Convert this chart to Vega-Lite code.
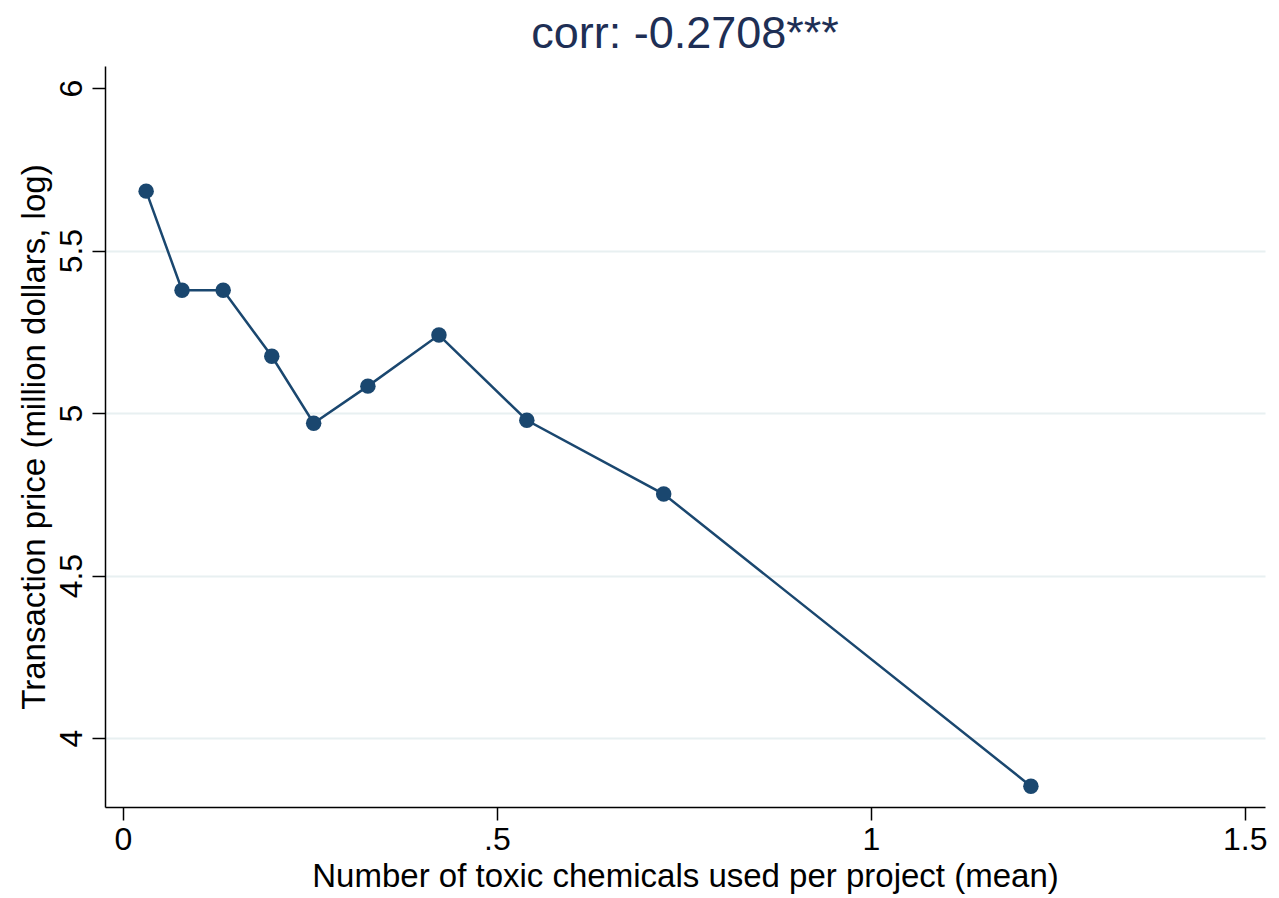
{
  "$schema": "https://vega.github.io/schema/vega-lite/v6.json",
  "width": 1160,
  "height": 741,
  "autosize": {"type": "none"},
  "padding": {"left": 105, "top": 66, "right": 14, "bottom": 91},
  "background": "white",
  "title": {
    "text": "corr: -0.2708***",
    "font": "Liberation Sans",
    "fontSize": 45,
    "fontWeight": "normal",
    "color": "#1e2f55",
    "anchor": "middle",
    "offset": 9
  },
  "config": {
    "view": {"stroke": null},
    "font": "Liberation Sans"
  },
  "data": {
    "values": [
      {"x": 0.031, "y": 5.683},
      {"x": 0.079, "y": 5.378},
      {"x": 0.134, "y": 5.378},
      {"x": 0.199, "y": 5.175},
      {"x": 0.255, "y": 4.969},
      {"x": 0.3275, "y": 5.083},
      {"x": 0.4225, "y": 5.240},
      {"x": 0.540, "y": 4.978},
      {"x": 0.723, "y": 4.751},
      {"x": 1.214, "y": 3.852}
    ]
  },
  "encoding": {
    "x": {
      "field": "x",
      "type": "quantitative",
      "scale": {"domain": [-0.024, 1.527], "nice": false, "zero": false},
      "axis": {
        "title": "Number of toxic chemicals used per project (mean)",
        "values": [0, 0.5, 1, 1.5],
        "labelExpr": "datum.value == 0.5 ? '.5' : (datum.value == 1 ? '1' : (datum.value == 0 ? '0' : '1.5'))",
        "grid": false,
        "domainColor": "#000000",
        "domainWidth": 1.5,
        "tickColor": "#000000",
        "tickWidth": 1.5,
        "tickSize": 13,
        "labelFontSize": 32,
        "labelColor": "#000000",
        "labelPadding": 4,
        "titleFontSize": 33,
        "titleFontWeight": "normal",
        "titleColor": "#000000",
        "titlePadding": 5
      }
    },
    "y": {
      "field": "y",
      "type": "quantitative",
      "scale": {"domain": [3.788, 6.068], "nice": false, "zero": false},
      "axis": {
        "title": "Transaction price (million dollars, log)",
        "values": [4, 4.5, 5, 5.5, 6],
        "labelExpr": "datum.value == 4 ? '4' : (datum.value == 5 ? '5' : (datum.value == 6 ? '6' : (datum.value == 4.5 ? '4.5' : '5.5')))",
        "grid": true,
        "gridColor": {"condition": {"test": "datum.value >= 6", "value": "transparent"}, "value": "#e8f0f1"},
        "gridWidth": 2,
        "domainColor": "#000000",
        "domainWidth": 1.5,
        "tickColor": "#000000",
        "tickWidth": 1.5,
        "tickSize": 13,
        "labelFontSize": 32,
        "labelColor": "#000000",
        "labelAngle": -90,
        "labelAlign": "center",
        "labelBaseline": "bottom",
        "labelPadding": 4,
        "titleFontSize": 33,
        "titleFontWeight": "normal",
        "titleColor": "#000000",
        "titlePadding": 4
      }
    }
  },
  "layer": [
    {"mark": {"type": "line", "color": "#1a476f", "strokeWidth": 2.5}},
    {"mark": {"type": "point", "filled": true, "color": "#1a476f", "size": 240, "opacity": 1}}
  ]
}
